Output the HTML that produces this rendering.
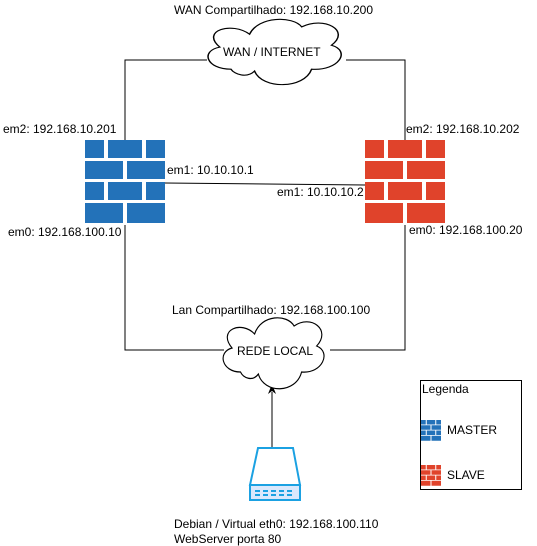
<!DOCTYPE html>
<html><head><meta charset="utf-8"><style>
body{margin:0;background:#fff;}
svg{display:block;font-family:"Liberation Sans",sans-serif;font-size:12px;}
</style></head><body>
<svg width="537" height="546" viewBox="0 0 537 546">
<defs>
<path id="cloud" d="M25,60 C5,60 0,40 16,36 C0,18 26,8 40,22 C47,2 75,2 82,14 C100,2 122,18 106,34 C122,40 112,62 90,60 C84,82 50,82 44,62 C38,70 28,66 25,60 Z" fill="#fff" stroke="#000" stroke-width="1.2"/>
<g id="fw">
<rect x="0" y="0" width="19" height="18"/><rect x="23" y="0" width="34" height="18"/><rect x="61" y="0" width="19" height="18"/>
<rect x="0" y="21" width="38" height="18"/><rect x="42" y="21" width="38" height="18"/>
<rect x="0" y="42" width="19" height="18"/><rect x="23" y="42" width="34" height="18"/><rect x="61" y="42" width="19" height="18"/>
<rect x="0" y="63" width="38" height="20"/><rect x="42" y="63" width="38" height="20"/>
</g>
</defs>
<g fill="none" stroke="#000" stroke-width="1">
<path d="M125,140 V60 H207"/>
<path d="M346,60 H405 V140"/>
<path d="M125,225 V350 H224"/>
<path d="M405,225 V350 H330"/>
<path d="M165,183 L365,185"/>
<path d="M272,450 V392"/>
</g>
<path d="M272,384 L268,394 L272,391 L276,394 Z" fill="#000"/>
<use href="#cloud" transform="translate(200,14) scale(1.24,0.92)"/>
<use href="#cloud" transform="translate(217,312) scale(0.94,1.0)"/>
<text x="223" y="56" font-size="12">WAN / INTERNET</text>
<text x="237" y="355" font-size="12">REDE LOCAL</text>
<g fill="#2372b9"><use href="#fw" transform="translate(85,140)"/></g>
<g fill="#e0432b"><use href="#fw" transform="translate(365,140)"/></g>
<text x="174" y="14">WAN Compartilhado: 192.168.10.200</text>
<text x="3" y="133">em2: 192.168.10.201</text>
<text x="406" y="133">em2: 192.168.10.202</text>
<text x="167" y="174">em1: 10.10.10.1</text>
<text x="277" y="196">em1: 10.10.10.2</text>
<text x="8" y="236">em0: 192.168.100.10</text>
<text x="409" y="234">em0: 192.168.100.20</text>
<text x="172" y="314">Lan Compartilhado: 192.168.100.100</text>
<g fill="none" stroke="#1ba1e2" stroke-width="2">
<path d="M258,448 H293 L300,485 H250 Z" fill="#fff"/>
<rect x="250" y="485" width="50" height="15" fill="#dae8fc"/>
</g>
<g fill="#1ba1e2"><rect x="255" y="490" width="5" height="2"/><rect x="263" y="490" width="5" height="2"/><rect x="271" y="490" width="5" height="2"/><rect x="279" y="490" width="5" height="2"/><rect x="287" y="490" width="5" height="2"/>
<rect x="255" y="494" width="5" height="2"/><rect x="263" y="494" width="5" height="2"/><rect x="271" y="494" width="5" height="2"/><rect x="279" y="494" width="5" height="2"/><rect x="287" y="494" width="5" height="2"/></g>
<text x="174" y="528">Debian / Virtual eth0: 192.168.100.110</text>
<text x="174" y="543">WebServer porta 80</text>
<rect x="420.5" y="380.5" width="101" height="109" fill="none" stroke="#000"/>
<text x="422" y="393">Legenda</text>
<g fill="#2372b9"><use href="#fw" transform="translate(421,420) scale(0.25)"/></g>
<g fill="#e0432b"><use href="#fw" transform="translate(421,465) scale(0.25)"/></g>
<text x="447" y="434">MASTER</text>
<text x="447" y="479">SLAVE</text>
</svg>
</body></html>
